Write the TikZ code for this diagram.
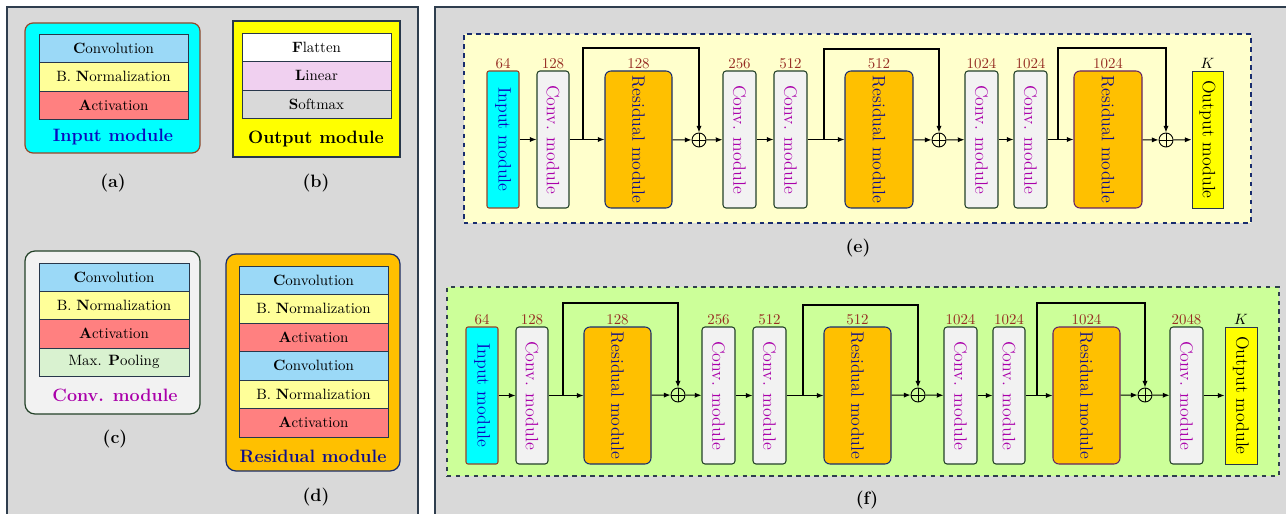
\documentclass[tikz,border=0pt]{standalone}
\usetikzlibrary{arrows.meta}
\def\u{0.67pt}
\definecolor{panelbg}{RGB}{217,217,217}
\definecolor{panelln}{RGB}{47,62,78}
\definecolor{cyn}{RGB}{0,255,255}
\definecolor{yel}{RGB}{255,255,0}
\definecolor{cblue}{RGB}{155,217,247}
\definecolor{nyel}{RGB}{255,255,153}
\definecolor{ared}{RGB}{255,128,128}
\definecolor{pgreen}{RGB}{217,242,208}
\definecolor{lpink}{RGB}{240,208,240}
\definecolor{sgray}{RGB}{217,217,217}
\definecolor{orng}{RGB}{255,192,0}
\definecolor{cgray}{RGB}{242,242,242}
\definecolor{efill}{RGB}{255,255,204}
\definecolor{ffill}{RGB}{204,255,153}
\definecolor{rowln}{RGB}{40,55,75}
\definecolor{inln}{RGB}{150,70,40}
\definecolor{convln}{RGB}{35,65,40}
\definecolor{resln}{RGB}{25,45,110}
\definecolor{resln3}{RGB}{100,35,100}
\definecolor{numc}{RGB}{150,45,35}
\definecolor{inblue}{RGB}{10,10,190}
\definecolor{convmag}{RGB}{170,0,170}
\definecolor{resnavy}{RGB}{15,15,140}
\newcommand\bx[7]{\node[#6, minimum width={(#4-#2)*\u}, minimum height={(#5-#3)*\u}, inner sep=0pt] (#1) at ({(#2+#4)/2},{(#3+#5)/2}) {#7};}
\tikzset{
  panel/.style={fill=panelbg, draw=panelln, line width=0.8pt},
  row/.style={draw=rowln, line width=0.6pt, font=\normalsize},
  lab/.style={font=\bfseries\large, inner sep=0pt},
  mlab/.style={font=\bfseries\large, inner sep=0pt},
  numl/.style={text=numc, inner sep=1pt, font=\normalsize},
  inm/.style={fill=cyn, draw=inln, line width=0.7pt, rounded corners=2*\u, text=inblue},
  convm/.style={fill=cgray, draw=convln, line width=0.7pt, rounded corners=3*\u, text=convmag},
  resm/.style={fill=orng, draw=resln, line width=0.7pt, rounded corners=6*\u, text=resnavy},
  outm/.style={fill=yel, draw=rowln, line width=0.6pt, text=black},
  plusn/.style={circle, draw, line width=0.6pt, minimum size=14*\u, inner sep=0pt,
    path picture={\draw[line width=0.6pt] (path picture bounding box.north) -- (path picture bounding box.south)
      (path picture bounding box.west) -- (path picture bounding box.east);}},
  arr/.style={line width=0.7pt, -{Latex[length=4.5pt,width=3.5pt]}},
}
\newcommand\rt[1]{\rotatebox{-90}{\large #1}}
\begin{document}
\begin{tikzpicture}[x=\u,y=-\u]
\useasboundingbox (0,0) rectangle (1286,514);
\clip (0,0) rectangle (1286,514);
\fill[white] (0,0) rectangle (1286,514);
% panels
\draw[panel] (7,7) rectangle (418,530);
\draw[panel] (435,7) rectangle (1300,530);

% (a) input module
\bx{A}{25}{23}{200}{153}{fill=cyn, draw=inln, line width=0.8pt, rounded corners=8*\u}{}
\bx{A1}{39}{34}{188}{62}{row, fill=cblue}{\textbf{C}onvolution}
\bx{A2}{39}{62}{188}{91}{row, fill=nyel}{B. \textbf{N}ormalization}
\bx{A3}{39}{91}{188}{119}{row, fill=ared}{\textbf{A}ctivation}
\node[mlab, text=inblue] (Al) at (113,137) {Input module};
\node[lab] (Ac) at (113,183) {(a)};

% (b) output module
\bx{B}{233}{21}{400}{157}{fill=yel, draw=rowln, line width=0.8pt}{}
\bx{B1}{242}{33}{391}{61}{row, fill=white}{\textbf{F}latten}
\bx{B2}{242}{61}{391}{90}{row, fill=lpink}{\textbf{L}inear}
\bx{B3}{242}{90}{391}{118}{row, fill=sgray}{\textbf{S}oftmax}
\node[mlab] (Bl) at (316,139) {Output module};
\node[lab] (Bc) at (316,183) {(b)};

% (c) conv module
\bx{C}{25}{251}{200}{414}{fill=cgray, draw=convln, line width=0.8pt, rounded corners=10*\u}{}
\bx{C1}{39}{263}{189}{291}{row, fill=cblue}{\textbf{C}onvolution}
\bx{C2}{39}{291}{189}{319}{row, fill=nyel}{B. \textbf{N}ormalization}
\bx{C3}{39}{319}{189}{348}{row, fill=ared}{\textbf{A}ctivation}
\bx{C4}{39}{348}{189}{376}{row, fill=pgreen}{Max. \textbf{P}ooling}
\node[mlab, text=convmag] (Cl) at (115,395) {Conv. module};
\node[lab] (Cc) at (115,439) {(c)};

% (d) residual module
\bx{D}{226}{254}{400}{471}{fill=orng, draw=resln, line width=0.8pt, rounded corners=10*\u}{}
\bx{D1}{239}{266}{388}{294}{row, fill=cblue}{\textbf{C}onvolution}
\bx{D2}{239}{294}{388}{323}{row, fill=nyel}{B. \textbf{N}ormalization}
\bx{D3}{239}{323}{388}{351}{row, fill=ared}{\textbf{A}ctivation}
\bx{D4}{239}{351}{388}{380}{row, fill=cblue}{\textbf{C}onvolution}
\bx{D5}{239}{380}{388}{408}{row, fill=nyel}{B. \textbf{N}ormalization}
\bx{D6}{239}{408}{388}{437}{row, fill=ared}{\textbf{A}ctivation}
\node[mlab, text=resnavy] (Dl) at (313,456) {Residual module};
\node[lab] (Dc) at (316,497) {(d)};

% (e)
\bx{E}{464}{34}{1251}{223}{fill=efill, draw=resln, line width=0.7pt, dashed}{}
\bx{ein}{487}{71}{519}{208}{inm, label={[numl]above:64}}{\rt{Input module}}
\bx{ec1}{537}{71}{569}{208}{convm, label={[numl]above:128}}{\rt{Conv. module}}
\bx{er1}{605}{71}{672}{208}{resm, label={[numl]above:128}}{\rt{Residual module}}
\node[plusn] (ep1) at (699,140) {};
\bx{ec2}{723}{71}{756}{208}{convm, label={[numl]above:256}}{\rt{Conv. module}}
\bx{ec3}{774}{71}{807}{208}{convm, label={[numl]above:512}}{\rt{Conv. module}}
\bx{er2}{845}{71}{913}{208}{resm, label={[numl]above:512}}{\rt{Residual module}}
\node[plusn] (ep2) at (939,140) {};
\bx{ec4}{965}{71}{998}{208}{convm, label={[numl]above:1024}}{\rt{Conv. module}}
\bx{ec5}{1014}{71}{1047}{208}{convm, label={[numl]above:1024}}{\rt{Conv. module}}
\bx{er3}{1074}{71}{1142}{208}{resm, draw=resln3, label={[numl]above:1024}}{\rt{Residual module}}
\node[plusn] (ep3) at (1166,140) {};
\bx{eout}{1192}{71}{1223}{208}{outm, label={[inner sep=1pt]above:$K$}}{\rt{Output module}}
\coordinate (es1) at (583,140); \coordinate (et1) at (583,48);
\coordinate (es2) at (824,140); \coordinate (et2) at (824,49);
\coordinate (es3) at (1058,140); \coordinate (et3) at (1058,48);
\draw[arr] (ein) -- (ec1);
\draw[arr] (ec1) -- (er1);
\draw[arr] (er1) -- (ep1);
\draw[arr] (ep1) -- (ec2);
\draw[arr] (ec2) -- (ec3);
\draw[arr] (ec3) -- (er2);
\draw[arr] (er2) -- (ep2);
\draw[arr] (ep2) -- (ec4);
\draw[arr] (ec4) -- (ec5);
\draw[arr] (ec5) -- (er3);
\draw[arr] (er3) -- (ep3);
\draw[arr] (ep3) -- (eout);
\draw[arr] (es1) -- (et1) -| (ep1.north);
\draw[arr] (es2) -- (et2) -| (ep2.north);
\draw[arr] (es3) -- (et3) -| (ep3.north);
\node[lab] (Ec) at (858,248) {(e)};

% (f)
\bx{F}{447}{287}{1279}{476}{fill=ffill, draw=panelln, line width=0.7pt, dashed}{}
\bx{fin}{466}{327}{498}{464}{inm, label={[numl]above:64}}{\rt{Input module}}
\bx{fc1}{516}{327}{548}{464}{convm, label={[numl]above:128}}{\rt{Conv. module}}
\bx{fr1}{584}{327}{651}{464}{resm, label={[numl]above:128}}{\rt{Residual module}}
\node[plusn] (fp1) at (678,395) {};
\bx{fc2}{702}{327}{735}{464}{convm, label={[numl]above:256}}{\rt{Conv. module}}
\bx{fc3}{753}{327}{786}{464}{convm, label={[numl]above:512}}{\rt{Conv. module}}
\bx{fr2}{824}{327}{891}{464}{resm, label={[numl]above:512}}{\rt{Residual module}}
\node[plusn] (fp2) at (918,395) {};
\bx{fc4}{944}{327}{977}{464}{convm, label={[numl]above:1024}}{\rt{Conv. module}}
\bx{fc5}{993}{327}{1025}{464}{convm, label={[numl]above:1024}}{\rt{Conv. module}}
\bx{fr3}{1053}{327}{1120}{464}{resm, draw=resln3, label={[numl]above:1024}}{\rt{Residual module}}
\node[plusn] (fp3) at (1145,395) {};
\bx{fc6}{1170}{327}{1203}{464}{convm, label={[numl]above:2048}}{\rt{Conv. module}}
\bx{fout}{1225}{327}{1257}{464}{outm, label={[inner sep=1pt]above:$K$}}{\rt{Output module}}
\coordinate (fs1) at (563,395); \coordinate (ft1) at (563,303);
\coordinate (fs2) at (803,395); \coordinate (ft2) at (803,305);
\coordinate (fs3) at (1037,395); \coordinate (ft3) at (1037,303);
\draw[arr] (fin) -- (fc1);
\draw[arr] (fc1) -- (fr1);
\draw[arr] (fr1) -- (fp1);
\draw[arr] (fp1) -- (fc2);
\draw[arr] (fc2) -- (fc3);
\draw[arr] (fc3) -- (fr2);
\draw[arr] (fr2) -- (fp2);
\draw[arr] (fp2) -- (fc4);
\draw[arr] (fc4) -- (fc5);
\draw[arr] (fc5) -- (fr3);
\draw[arr] (fr3) -- (fp3);
\draw[arr] (fp3) -- (fc6);
\draw[arr] (fc6) -- (fout);
\draw[arr] (fs1) -- (ft1) -| (fp1.north);
\draw[arr] (fs2) -- (ft2) -| (fp2.north);
\draw[arr] (fs3) -- (ft3) -| (fp3.north);
\node[lab] (Fc) at (867,500) {(f)};
\end{tikzpicture}
\end{document}
